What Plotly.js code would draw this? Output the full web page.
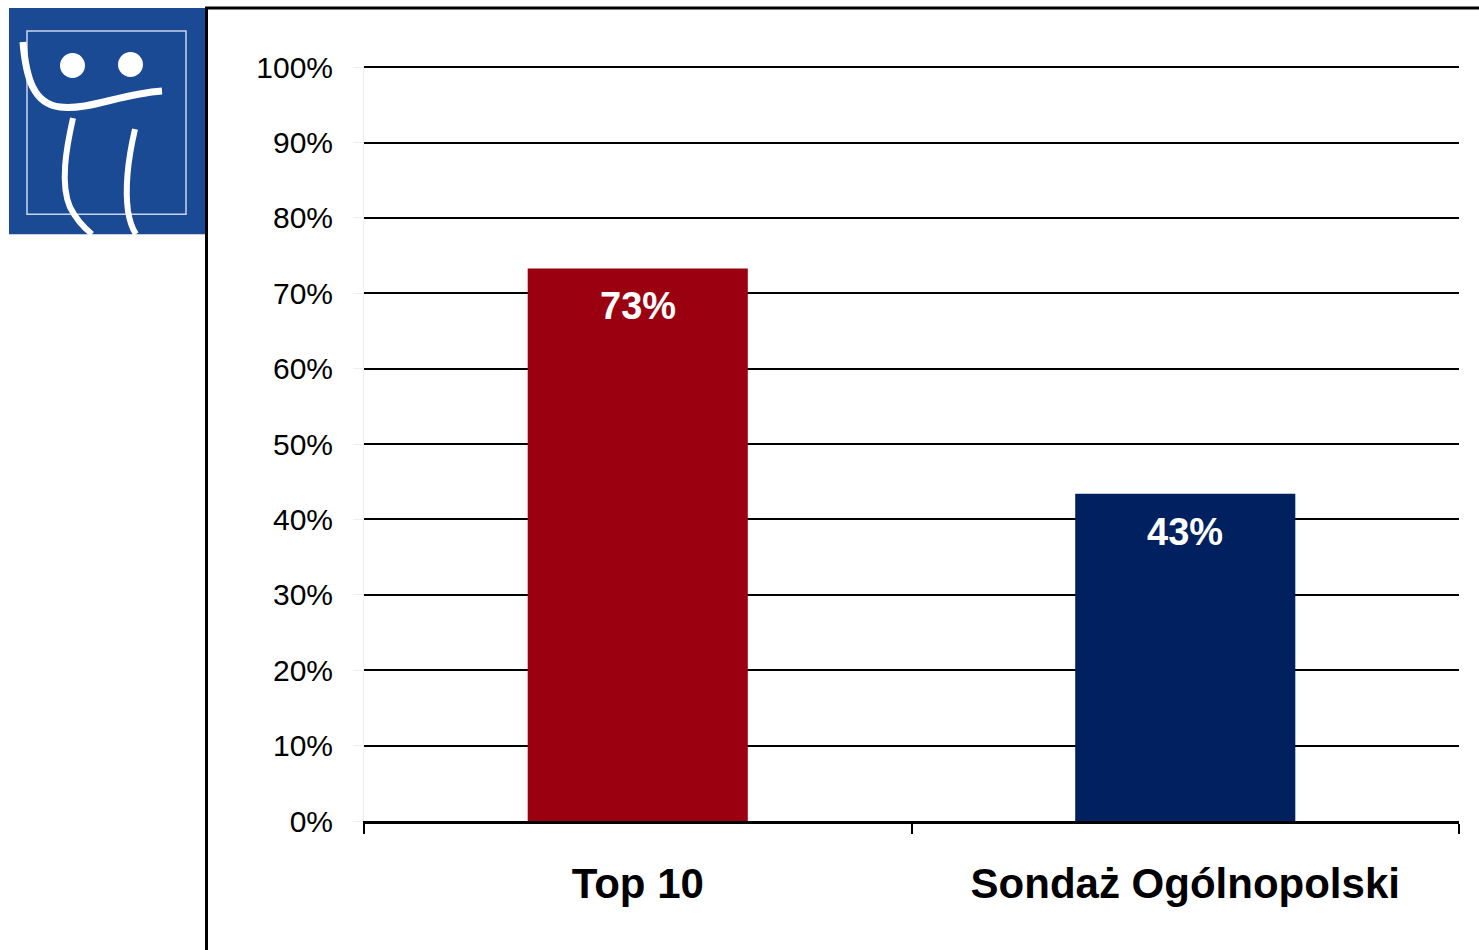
<!DOCTYPE html>
<html>
<head>
<meta charset="utf-8">
<script src="https://cdn.plot.ly/plotly-3.0.1.min.js"></script>
<style>
  html, body { margin: 0; padding: 0; background: #ffffff; }
  #chart { width: 1479px; height: 950px; }
</style>
</head>
<body>
<div id="chart"></div>
<script>
// ---- data ----
const categories = ["Top 10", "Sondaż Ogólnopolski"];
const values = [0.733, 0.434];
const barColors = ["#9b0010", "#002060"];
const yTickVals = [0, 0.1, 0.2, 0.3, 0.4, 0.5, 0.6, 0.7, 0.8, 0.9, 1.0];

// ---- geometry helpers (plot area pixel box) ----
const W = 1479, H = 950;
const L = 364, R = 1459, T = 67, B = 821;
const pw = R - L, ph = B - T;
const fx = x => (x - L) / pw;
const fy = y => (B - y) / ph;
function path(pts) {
  return pts.map(p => {
    const c = p[0];
    const nums = [];
    for (let i = 1; i < p.length; i += 2) nums.push(fx(p[i]) + ',' + fy(p[i + 1]));
    return c + nums.join(' ');
  }).join(' ');
}

const logoBlue = "#1a4a94";
const shapes = [
  {type: 'rect', xref: 'paper', yref: 'paper', x0: fx(9), x1: fx(205), y0: fy(9), y1: fy(235),
   fillcolor: logoBlue, line: {width: 0}, layer: 'above'},
  {type: 'rect', xref: 'paper', yref: 'paper', x0: fx(27), x1: fx(186), y0: fy(32), y1: fy(215),
   fillcolor: 'rgba(0,0,0,0)', line: {color: '#c9d5ea', width: 1.5}, layer: 'above'},
  {type: 'circle', xref: 'paper', yref: 'paper', x0: fx(60), x1: fx(85), y0: fy(54), y1: fy(79),
   fillcolor: '#ffffff', line: {width: 0}, layer: 'above'},
  {type: 'circle', xref: 'paper', yref: 'paper', x0: fx(118), x1: fx(143), y0: fy(53), y1: fy(78),
   fillcolor: '#ffffff', line: {width: 0}, layer: 'above'},
  {type: 'path', xref: 'paper', yref: 'paper', layer: 'above',
   path: path([['M', 23, 43], ['C', 26, 80, 34, 105, 60, 108], ['C', 90, 111, 120, 95, 162, 92]]),
   line: {color: '#ffffff', width: 7}},
  {type: 'path', xref: 'paper', yref: 'paper', layer: 'above',
   path: path([['M', 73, 119], ['C', 66, 150, 60, 185, 70, 208], ['C', 77, 222, 87, 231, 92, 235]]),
   line: {color: '#ffffff', width: 6}},
  {type: 'path', xref: 'paper', yref: 'paper', layer: 'above',
   path: path([['M', 135, 130], ['C', 128, 160, 125, 190, 128, 212], ['C', 130, 224, 134, 232, 136, 235]]),
   line: {color: '#ffffff', width: 6}},
  {type: 'line', xref: 'paper', yref: 'paper', x0: fx(206.5), x1: fx(206.5), y0: fy(8), y1: fy(952),
   line: {color: '#000000', width: 3}, layer: 'above'},
  {type: 'line', xref: 'paper', yref: 'paper', x0: fx(205), x1: fx(1481), y0: fy(9), y1: fy(9),
   line: {color: '#000000', width: 3}, layer: 'above'}
];

const annotations = categories.map((c, i) => ({
  x: c, y: values[i], xref: 'x', yref: 'y',
  text: '<b>' + Math.round(values[i] * 100) + '%</b>',
  showarrow: false, yanchor: 'middle', yshift: -38,
  font: {family: 'Liberation Sans, Arial, sans-serif', size: 38, color: '#ffffff'}
}));

const trace = {
  type: 'bar',
  x: categories,
  y: values,
  marker: {color: barColors, line: {width: 0}},
  hoverinfo: 'skip'
};

const layout = {
  width: W, height: H,
  margin: {l: L, r: W - R, t: T - 1, b: H - B, pad: 0},
  paper_bgcolor: '#ffffff',
  plot_bgcolor: '#ffffff',
  showlegend: false,
  bargap: 0.598,
  font: {family: 'Liberation Sans, Arial, sans-serif', color: '#000000'},
  xaxis: {
    type: 'category',
    showgrid: false,
    zeroline: false,
    showline: true, linecolor: '#000000', linewidth: 2.5,
    ticks: 'outside', tickson: 'boundaries', ticklen: 10, tickwidth: 2, tickcolor: '#000000',
    tickfont: {size: 42, weight: 'bold', color: '#000000', family: 'Liberation Sans, Arial, sans-serif'},
    ticklabelstandoff: 24,
    fixedrange: true
  },
  yaxis: {
    range: [0, 1.0015],
    tickvals: yTickVals,
    tickformat: '.0%',
    showgrid: true, gridcolor: '#000000', gridwidth: 2,
    zeroline: false,
    showline: true, linecolor: '#eeeeee', linewidth: 1,
    ticks: 'outside', ticklen: 10, tickcolor: '#eeeeee', tickwidth: 1,
    tickfont: {size: 30, color: '#000000', family: 'Liberation Sans, Arial, sans-serif'},
    ticklabelstandoff: 14,
    fixedrange: true
  },
  shapes: shapes,
  annotations: annotations
};

Plotly.newPlot('chart', [trace], layout, {displayModeBar: false, staticPlot: true});
</script>
</body>
</html>
